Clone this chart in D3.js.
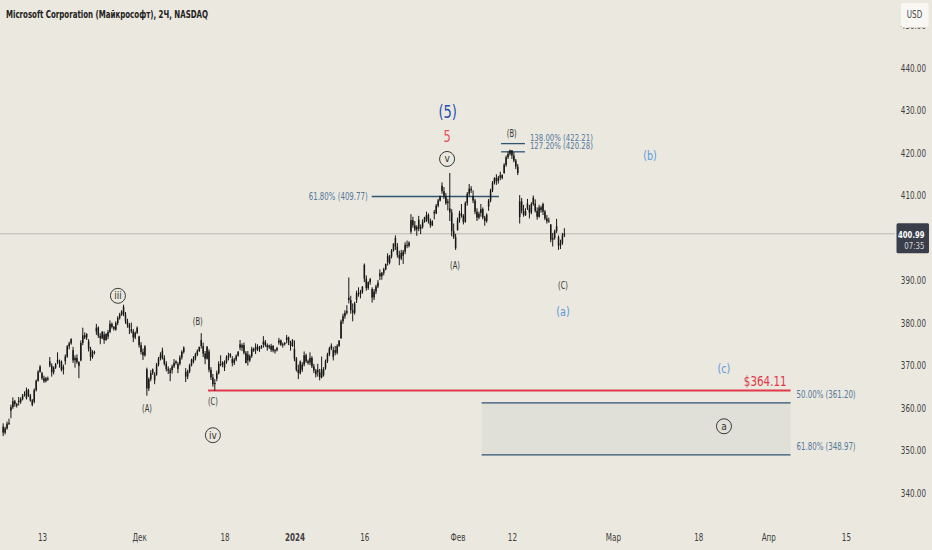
<!DOCTYPE html>
<html><head><meta charset="utf-8">
<script src="https://cdn.jsdelivr.net/npm/d3@7"></script>
<style>
html,body{margin:0;padding:0;background:#ebe8df;}
svg{display:block;}
text{font-family:"Liberation Sans Narrow","DejaVu Sans Condensed","Arial Narrow","DejaVu Sans",sans-serif;}
</style></head><body>
<svg id="c" width="932" height="550"></svg>
<script>
// ---------- DATA ----------
const days = [
"2023-11-06","2023-11-07","2023-11-08","2023-11-09","2023-11-10",
"2023-11-13","2023-11-14","2023-11-15","2023-11-16","2023-11-17",
"2023-11-20","2023-11-21","2023-11-22","2023-11-24",
"2023-11-27","2023-11-28","2023-11-29","2023-11-30","2023-12-01",
"2023-12-04","2023-12-05","2023-12-06","2023-12-07","2023-12-08",
"2023-12-11","2023-12-12","2023-12-13","2023-12-14","2023-12-15",
"2023-12-18","2023-12-19","2023-12-20","2023-12-21","2023-12-22",
"2023-12-26","2023-12-27","2023-12-28","2023-12-29",
"2024-01-02","2024-01-03","2024-01-04","2024-01-05",
"2024-01-08","2024-01-09","2024-01-10","2024-01-11","2024-01-12",
"2024-01-16","2024-01-17","2024-01-18","2024-01-19",
"2024-01-22","2024-01-23","2024-01-24","2024-01-25","2024-01-26",
"2024-01-29","2024-01-30","2024-01-31","2024-02-01","2024-02-02",
"2024-02-05","2024-02-06","2024-02-07","2024-02-08","2024-02-09",
"2024-02-12","2024-02-13","2024-02-14","2024-02-15","2024-02-16",
"2024-02-20","2024-02-21"];
const halfDays = ["2023-11-24"];
const dayOpens = [
355.6,359.4,361.7,362.3,361.5,
368.2,371.0,371.3,371.0,373.6,
371.2,375.7,378.0,377.3,
376.8,378.4,383.8,378.5,376.8,
369.1,366.5,373.5,368.2,369.2,
368.5,370.9,376.0,373.3,366.9,
369.5,371.5,375.0,372.6,373.7,
375.0,373.7,375.4,376.0,
373.9,369.0,370.7,369.0,
369.3,372.0,376.4,386.0,385.5,
393.7,388.0,391.7,395.8,
400.0,395.8,401.5,404.3,404.4,
406.1,412.3,407.0,401.8,403.8,
409.9,405.9,407.4,414.1,415.3,
420.6,404.9,408.1,408.1,408.0,
403.2,400.2];
// 2-hour bars (4 per day, 2 on half days)
const highs = [
356.4,355.6,356.8,357.5, 360.8,362.5,361.9,361.2, 362.6,362.5,363.3,363.9, 364.8,364.5,363.3,362.1, 364.6,366.7,368.9,370.1,
368.5,367.6,367.3,367.4, 372.0,370.5,369.8,370.6, 373.1,371.4,371.2,370.2, 372.6,374.8,375.6,376.4, 374.4,372.4,372.6,371.0,
375.9,378.9,377.8,377.6, 376.2,374.4,373.6,373.5, 379.8,379.2,377.6,378.1, 378.0,377.6,
378.4,380.6,380.1,379.3, 380.4,381.6,382.4,383.0, 384.3,382.6,381.0,380.0, 380.1,378.6,378.0,379.2, 377.0,375.5,374.0,374.8,
369.5,367.2,368.9,369.3, 368.4,370.6,372.0,373.1, 374.2,372.4,371.0,369.8, 369.4,370.2,371.5,371.2, 370.8,372.4,373.6,374.5,
369.4,369.0,370.4,371.6, 372.2,373.0,373.8,374.4, 377.6,375.4,373.4,374.6, 373.8,369.6,368.0,366.8, 368.8,371.0,372.4,371.0,
371.2,372.4,373.0,372.9, 372.2,371.8,372.6,373.3, 376.0,375.2,375.4,373.4, 373.4,372.6,374.4,374.2, 375.2,375.0,374.6,374.8,
376.9,376.0,375.2,374.9, 375.1,374.8,373.9,374.4, 376.5,376.1,375.4,375.5, 377.2,376.8,375.8,376.2,
375.9,372.0,370.2,371.2, 370.8,373.3,372.8,371.4, 373.1,372.2,370.4,369.2, 370.4,369.2,372.1,369.6,
371.4,373.0,374.4,375.2, 374.4,374.6,375.0,376.0, 380.8,382.2,383.0,384.2, 390.7,386.4,384.6,385.0, 387.6,388.4,387.8,388.7,
394.0,391.2,389.8,390.6, 388.4,388.0,389.0,390.1, 392.6,392.0,393.0,394.0, 396.4,396.0,397.4,398.7,
400.6,398.8,397.0,397.2, 397.2,399.0,399.4,399.2, 405.6,405.0,404.0,403.0, 405.2,403.2,404.4,405.0, 406.2,405.8,404.6,404.2,
406.6,408.0,409.2,410.0, 413.1,412.0,410.6,409.2, 415.3,406.8,403.4,401.0, 404.8,406.4,408.0,405.6, 408.6,410.8,412.7,412.2,
411.2,409.2,407.0,406.2, 408.0,407.2,405.2,405.8, 409.2,411.6,413.4,414.3, 415.0,414.6,415.6,415.0, 417.6,419.4,420.4,420.8,
420.7,420.2,418.6,417.4, 410.1,409.4,407.8,407.0, 409.2,407.8,408.4,410.0, 409.1,407.2,407.8,407.6, 408.3,406.6,405.4,404.8,
403.2,401.2,402.0,404.5, 400.6,399.6,401.2,402.3];
const lows = [
353.4,353.8,354.9,356.0, 357.6,359.8,360.3,360.1, 360.6,361.0,361.8,362.7, 362.0,362.6,361.5,360.4, 361.1,363.9,366.2,368.3,
366.6,365.9,366.0,366.4, 369.6,367.4,367.9,369.2, 370.3,369.5,368.6,367.9, 370.2,371.8,373.8,374.9, 370.6,369.5,370.4,367.0,
371.0,374.8,376.2,376.0, 373.3,371.1,371.6,372.6, 377.2,376.5,375.0,376.2, 375.1,375.8,
376.2,377.6,378.7,378.2, 378.2,379.5,380.8,381.7, 381.6,379.8,378.9,377.4, 377.6,375.5,376.2,377.4, 374.2,372.6,371.3,372.1,
362.9,364.0,366.3,367.8, 365.6,367.6,369.8,371.2, 371.4,370.0,368.6,368.0, 366.3,368.1,369.4,370.2, 368.2,370.0,371.4,372.8,
366.1,366.8,368.2,369.8, 370.5,371.2,372.2,373.2, 374.0,372.0,370.3,371.4, 368.4,366.6,365.0,364.1, 366.3,367.9,369.8,369.6,
368.7,370.4,371.2,371.8, 369.8,370.1,371.0,372.1, 373.6,373.4,372.6,370.5, 370.0,370.8,371.8,373.2, 372.7,373.4,373.2,373.9,
374.2,374.4,373.5,373.9, 373.2,373.1,372.8,373.3, 374.9,374.6,374.2,374.7, 375.2,374.8,373.5,374.4,
371.0,368.6,366.8,367.9, 368.5,369.8,370.6,370.2, 370.1,369.4,368.2,367.2, 367.4,366.5,367.0,367.4,
369.0,370.6,372.2,373.6, 371.2,372.4,372.6,374.4, 376.3,379.8,381.0,382.0, 384.6,382.2,380.4,382.0, 384.7,386.2,385.8,386.9,
389.6,387.6,387.8,389.0, 384.8,385.4,386.8,388.2, 390.1,390.2,391.2,392.4, 393.5,393.8,395.2,396.8,
397.2,395.4,393.6,394.8, 393.9,396.2,397.6,397.8, 401.0,402.4,401.6,400.5, 401.6,400.9,402.2,403.6, 403.8,403.4,402.4,402.8,
404.4,405.6,407.2,408.6, 410.4,409.2,407.8,406.5, 404.0,400.4,399.8,397.2, 401.8,403.6,404.8,403.2, 403.6,407.6,409.8,410.6,
408.2,405.6,404.0,404.4, 405.0,404.4,402.9,403.6, 406.4,408.4,410.8,412.6, 412.5,412.8,413.6,413.8, 415.1,416.8,418.6,419.4,
418.6,417.8,416.2,414.8, 403.4,405.8,405.0,405.2, 406.6,404.6,405.6,407.6, 406.0,404.3,404.8,406.0, 405.4,404.2,403.4,403.6,
399.0,398.0,399.6,401.2, 397.2,397.4,398.4,400.2];
const closes = [
354.2,355.2,356.3,356.5, 360.2,361.6,360.9,360.5, 361.4,362.1,362.9,363.2, 364.2,362.9,361.8,360.7, 364.2,366.4,368.5,369.7,
367.0,366.3,367.0,366.7, 370.0,368.4,369.5,370.3, 370.8,370.9,369.0,369.7, 372.1,374.5,375.2,376.2, 371.2,371.8,370.8,369.9,
375.3,377.1,376.6,377.4, 373.9,372.0,373.2,373.1, 378.9,377.0,376.4,377.9, 376.0,377.4,
377.9,379.8,379.1,378.6, 380.0,381.2,382.0,382.7, 382.0,380.4,379.6,378.9, 378.0,376.6,377.7,378.9, 374.8,373.2,372.4,374.5,
364.6,366.8,368.2,369.1, 367.9,370.2,371.6,372.5, 371.8,370.4,369.2,368.8, 368.9,369.8,370.6,371.0, 370.4,371.9,373.2,374.2,
367.4,368.6,370.0,371.3, 371.6,372.6,373.4,374.4, 374.6,372.8,371.6,374.4, 369.0,367.2,365.6,365.9, 368.2,370.4,370.2,370.7,
370.8,371.9,372.2,372.7, 370.6,371.4,372.3,373.3, 374.2,374.8,373.0,370.6, 371.2,372.2,373.9,373.5, 374.4,373.8,374.2,374.6,
375.6,374.8,374.3,374.7, 374.6,373.5,373.6,374.1, 375.9,374.9,375.0,375.3, 376.6,375.4,374.6,376.0,
371.6,369.0,368.2,370.9, 370.2,372.4,371.0,370.6, 371.8,369.8,368.8,367.9, 368.4,367.2,369.1,367.8,
371.0,372.6,374.0,374.7, 373.6,373.0,374.6,375.8, 380.4,381.6,382.4,382.8, 385.4,383.0,382.4,384.6, 387.0,386.8,387.2,388.5,
390.4,388.2,389.6,390.3, 386.0,387.4,388.6,389.5, 391.0,391.8,392.6,393.9, 394.2,395.6,397.0,398.7,
398.0,396.0,395.2,396.5, 396.8,398.4,398.2,398.9, 404.2,403.0,402.0,402.6, 402.2,402.6,403.8,404.9, 405.4,404.0,403.0,403.9,
405.8,407.6,408.8,409.7, 411.0,409.8,408.2,408.6, 406.0,401.6,400.2,397.6, 404.2,405.8,405.2,403.8, 408.2,410.4,411.6,411.2,
408.8,406.2,404.8,405.7, 406.8,404.8,404.0,405.5, 408.8,411.2,413.0,414.1, 413.4,414.2,414.8,414.1, 417.2,419.0,419.8,420.6,
419.4,418.2,416.8,415.3, 408.6,406.4,405.4,406.3, 407.0,406.0,408.0,409.5, 406.4,405.0,407.2,406.6, 406.2,404.6,403.9,404.1,
399.6,400.0,401.6,402.8, 398.2,398.8,400.6,401.0];

const lastPrice = 400.99;
const countdown = "07:35";
const currency = "USD";
const title = "Microsoft Corporation (Майкрософт), 2Ч, NASDAQ";

// 400.00 is hidden behind the last-price tag in the original, so it is not listed
const yTicks = [340,350,360,370,380,390,410,420,430,440,450];
const xTickLabels = ["13","Дек","18","2024","16","Фев","12","Мар","18","Апр","15"];
const xTickBars   = [20,70,114,150,186,234,262,314,358,394,434]; // bar index of each date
const xTickBold   = ["2024"];

// Fibonacci / level lines (price, bar range)
const fibLabels = ["61.80% (409.77)","138.00% (422.21)","127.20% (420.28)","50.00% (361.20)","61.80% (348.97)"];
const fibPrices = [409.77,422.21,420.28,361.20,348.97];
const fibFrom   = [189.8,256.4,256.4,246.4,246.4];
const fibTo     = [255.3,268.7,268.7,405.5,405.5];
const zonePrices = [361.20,348.97];
const targetPrice = 364.11;
const targetFrom = 105.5, targetTo = 405.5;

// Elliott wave labels (text, bar, price)
const navyLabels  = [["(5)",228.9,429.7]];
const redLabels   = [["5",228.6,423.8]];
const blueLabels  = [["(b)",333.1,419.5],["(a)",288.3,382.7],["(c)",371.2,369.2]];
const blackLabels = [["(A)",74.1,360.0],["(B)",100.2,380.3],["(C)",108.0,361.5],
                     ["(A)",232.7,393.6],["(B)",261.9,424.7],["(C)",288.3,388.9]];
const circleLabels = [["iii",59.1,386.4],["iv",108.0,353.6],["v",228.6,418.6],["a",371.2,355.7]];

// ---------- BUILD BARS ----------
const bars = [];
let idx = 0, k = 0;
days.forEach((d, di) => {
  const n = halfDays.includes(d) ? 2 : 4;
  for (let j = 0; j < n; j++) {
    const open = j === 0 ? dayOpens[di] : closes[k - 1];
    bars.push({i: idx, o: open, h: highs[k], l: lows[k], c: closes[k]});
    idx++; k++;
  }
});

// narrow-font emulation: squeeze text horizontally
function narrow(sel, f) {
  sel.each(function () {
    const L = this.getComputedTextLength();
    if (L > 0) d3.select(this).attr("textLength", L * f).attr("lengthAdjust", "spacingAndGlyphs");
  });
  return sel;
}

// ---------- CHART ----------
const W = 932, H = 550, plotR = 890;
const svg = d3.select("#c");
svg.append("rect").attr("width", W).attr("height", H).attr("fill", "#ebe8df");

const x = d3.scaleLinear().domain([-1.63, 456.7]).range([0, plotR]);
const y = d3.scaleLinear().domain([340, 440]).range([493, 68]);

// right price axis
const yAxis = d3.axisRight(y).tickValues(yTicks).tickFormat(d3.format(".2f")).tickSize(0);
const ya = svg.append("g").attr("transform", `translate(${W - 6},0)`).call(yAxis);
ya.select(".domain").remove();
ya.selectAll("text").attr("x", 0).attr("text-anchor", "end").attr("fill", "#3f3f3f")
  .style("font-size", "10px");
narrow(ya.selectAll("text"), 0.8);

// bottom time axis
const xAxis = d3.axisBottom(x).tickValues(xTickBars)
  .tickFormat((d, i) => xTickLabels[i]).tickSize(0);
const xa = svg.append("g").attr("transform", "translate(0,531)").call(xAxis);
xa.select(".domain").remove();
xa.selectAll("text").attr("y", 3).attr("fill", "#3f3f3f").style("font-size", "10px")
  .style("font-weight", (d, i) => xTickBold.includes(xTickLabels[i]) ? "bold" : "normal");
narrow(xa.selectAll("text"), 0.8);

// target zone fill
svg.append("rect")
  .attr("x", x(fibFrom[3])).attr("width", x(fibTo[3]) - x(fibFrom[3]))
  .attr("y", y(zonePrices[0])).attr("height", y(zonePrices[1]) - y(zonePrices[0]))
  .attr("fill", "#dcdcd6").attr("opacity", 0.75);

// current price line
svg.append("line").attr("x1", 0).attr("x2", plotR + 5)
  .attr("y1", y(lastPrice)).attr("y2", y(lastPrice))
  .attr("stroke", "#b9b8b0").attr("stroke-width", 1);

// fib lines
const fibColor = "#2f5573";
fibPrices.forEach((p, i) => {
  svg.append("line").attr("x1", x(fibFrom[i])).attr("x2", x(fibTo[i]))
    .attr("y1", y(p)).attr("y2", y(p))
    .attr("stroke", fibColor).attr("stroke-width", 1.3);
});
// fib labels
const fibTxt = [];
fibTxt.push(svg.append("text").attr("x", x(fibFrom[0]) - 4).attr("y", y(fibPrices[0]))
  .attr("dy", "0.35em").attr("text-anchor", "end").style("font-size", "10px").text(fibLabels[0]));
[1, 2].forEach(i => {
  fibTxt.push(svg.append("text").attr("x", x(fibTo[i]) + 5).attr("y", y(fibPrices[i]) - 2.5)
    .style("font-size", "9px").text(fibLabels[i]));
});
[3, 4].forEach(i => {
  fibTxt.push(svg.append("text").attr("x", x(fibTo[i]) + 6).attr("y", y(fibPrices[i]) - 5)
    .style("font-size", "10px").text(fibLabels[i]));
});
fibTxt.forEach((t, i) => { t.attr("fill", "#55799a"); narrow(t, (i === 1 || i === 2) ? 0.86 : 0.78); });

// red target line
svg.append("line").attr("x1", x(targetFrom)).attr("x2", x(targetTo))
  .attr("y1", y(targetPrice)).attr("y2", y(targetPrice))
  .attr("stroke", "#e0394a").attr("stroke-width", 2);
narrow(svg.append("text").attr("x", x(targetTo) - 4).attr("y", y(targetPrice) - 5)
  .attr("text-anchor", "end").attr("fill", "#e0394a")
  .style("font-size", "14px").style("font-weight", "500")
  .text("$" + targetPrice.toFixed(2)), 0.82);

// candles
const cg = svg.append("g");
const bw = 1.5;
cg.selectAll("line.w").data(bars).join("line")
  .attr("x1", d => x(d.i)).attr("x2", d => x(d.i))
  .attr("y1", d => y(Math.max(d.h, d.o, d.c))).attr("y2", d => y(Math.min(d.l, d.o, d.c)))
  .attr("stroke", "#161616").attr("stroke-width", 1);
cg.selectAll("rect.b").data(bars).join("rect")
  .attr("x", d => x(d.i) - bw / 2).attr("width", bw)
  .attr("y", d => y(Math.max(d.o, d.c)))
  .attr("height", d => Math.max(1, Math.abs(y(d.o) - y(d.c))))
  .attr("fill", "#161616");

// wave labels
function labels(arr, color, size, f) {
  arr.forEach(([t, b, p]) => {
    narrow(svg.append("text").attr("x", x(b)).attr("y", y(p)).attr("dy", "0.35em")
      .attr("text-anchor", "middle").attr("fill", color)
      .style("font-size", size + "px").text(t), f);
  });
}
labels(navyLabels, "#2350b2", 17, 0.85);
labels(redLabels, "#e8505b", 15, 0.85);
labels(blueLabels, "#5a9be0", 13, 0.82);
labels(blackLabels, "#333333", 10, 0.75);
circleLabels.forEach(([t, b, p]) => {
  svg.append("circle").attr("cx", x(b)).attr("cy", y(p)).attr("r", 7.5)
    .attr("fill", "none").attr("stroke", "#3a3a3a").attr("stroke-width", 1);
  svg.append("text").attr("x", x(b)).attr("y", y(p)).attr("dy", "0.35em")
    .attr("text-anchor", "middle").attr("fill", "#333").style("font-size", "10px").text(t);
});

// title
svg.append("text").attr("x", 6).attr("y", 18).attr("fill", "#222")
  .style("font-size", "11px").style("font-weight", "bold")
  .attr("textLength", 202).attr("lengthAdjust", "spacingAndGlyphs").text(title);

// currency box (covers most of the top 450.00 label, as in the original)
svg.append("rect").attr("x", 901).attr("y", 3).attr("width", 27.5).attr("height", 24.5)
  .attr("rx", 2).attr("fill", "#f8f7f3");
narrow(svg.append("text").attr("x", 914.5).attr("y", 14).attr("dy", "0.35em").attr("text-anchor", "middle")
  .attr("fill", "#444").style("font-size", "10px").text(currency), 0.8);

// last price tag
const ty = y(lastPrice);
svg.append("rect").attr("x", 896.5).attr("y", ty - 10.5).attr("width", 32.5).attr("height", 30)
  .attr("rx", 1.5).attr("fill", "#3a3e4a");
narrow(svg.append("text").attr("x", 924.5).attr("y", ty + 0.5).attr("dy", "0.35em").attr("text-anchor", "end")
  .attr("fill", "#ffffff").style("font-size", "9.5px").style("font-weight", "bold").text(lastPrice.toFixed(2)), 0.8);
narrow(svg.append("text").attr("x", 924.5).attr("y", ty + 12).attr("dy", "0.35em").attr("text-anchor", "end")
  .attr("fill", "#d8d8de").style("font-size", "9.5px").text(countdown), 0.82);
</script>
</body></html>
